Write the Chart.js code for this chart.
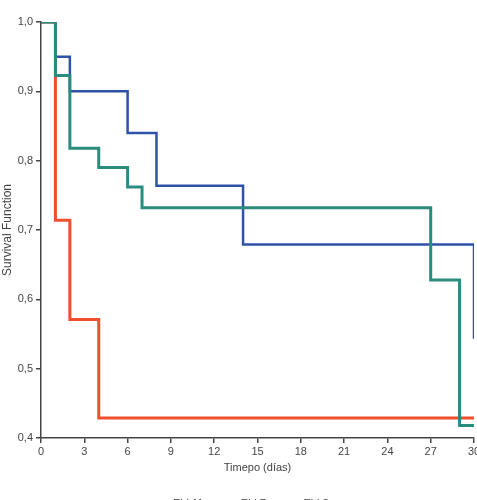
<!DOCTYPE html>
<html>
<head>
<meta charset="utf-8">
<script src="https://cdn.jsdelivr.net/npm/chart.js@4"></script>
<style>
  html, body { margin: 0; padding: 0; background: #fff; overflow: hidden; }
  #wrap { width: 477px; height: 519px; }
</style>
</head>
<body>
<div id="wrap"><canvas id="chart" width="477" height="519"></canvas></div>
<script>
// Datos (tiempo en días, función de supervivencia)
const seriesNames = ['Ehl 2', 'Ehl 7', 'Ehl 11'];

const blueDays = [0, 1, 2, 6, 8, 14, 30];
const blueSurv = [1.0, 0.95, 0.9, 0.84, 0.764, 0.679, 0.543];

const redDays = [0, 1, 2, 4, 30];
const redSurv = [1.0, 0.714, 0.571, 0.429, 0.429];

const tealDays = [0, 1, 2, 4, 6, 7, 27, 29, 30];
const tealSurv = [1.0, 0.923, 0.818, 0.79, 0.762, 0.732, 0.628, 0.418, 0.418];

const xTicks = [0, 3, 6, 9, 12, 15, 18, 21, 24, 27, 30];
const yTicks = [0.4, 0.5, 0.6, 0.7, 0.8, 0.9, 1.0];

const toPoints = (xs, ys) => xs.map((x, i) => ({ x: x, y: ys[i] }));

const textColor = '#444';
const axisColor = '#444';
const font = { family: 'Liberation Sans, Arial, sans-serif', size: 11 };

function makeSet(label, xs, ys, color, width, order) {
    return {
        label: label,
        data: toPoints(xs, ys),
        borderColor: color,
        backgroundColor: color,
        borderWidth: width,
        stepped: true,
        pointRadius: 0,
        fill: false,
        order: order
    };
}

const ctx = document.getElementById('chart').getContext('2d');
new Chart(ctx, {
    type: 'line',
    data: {
        datasets: [
            makeSet(seriesNames[0], blueDays, blueSurv, '#2d52a8', 2.5, 3),
            makeSet(seriesNames[1], redDays, redSurv, '#ef4f2c', 3, 2),
            makeSet(seriesNames[2], tealDays, tealSurv, '#2a8b7f', 3, 1)
        ]
    },
    options: {
        responsive: false,
        animation: false,
        layout: { padding: { top: 22, right: 3, left: 0, bottom: 0 } },
        scales: {
            x: {
                type: 'linear',
                min: 0,
                max: 30,
                afterBuildTicks: (scale) => { scale.ticks = xTicks.map(v => ({ value: v })); },
                afterFit: (scale) => {
                    scale.height = 50;
                    scale.paddingLeft = 0;
                    scale.paddingRight = 0;
                },
                ticks: { color: textColor, font: font, padding: 2, maxRotation: 0, autoSkip: false },
                grid: { drawOnChartArea: false, drawTicks: true, tickLength: 5, color: axisColor, lineWidth: 1.5 },
                border: { display: true, color: axisColor, width: 1.5 },
                title: { display: true, text: 'Timepo (días)', color: textColor, font: font, padding: { top: 0, bottom: 13 } }
            },
            y: {
                type: 'linear',
                min: 0.4,
                max: 1.0,
                afterBuildTicks: (scale) => { scale.ticks = yTicks.map(v => ({ value: v })); },
                afterFit: (scale) => {
                    scale.width = 41;
                    scale.paddingTop = 0;
                    scale.paddingBottom = 0;
                },
                ticks: {
                    color: textColor,
                    font: font,
                    padding: 3,
                    callback: (v) => v.toFixed(1).replace('.', ',')
                },
                grid: { drawOnChartArea: false, drawTicks: true, tickLength: 5, color: axisColor, lineWidth: 1.5 },
                border: { display: true, color: axisColor, width: 1.5 },
                title: { display: true, text: 'Survival Function', color: textColor, font: { family: font.family, size: 12 }, padding: { top: 0, bottom: 0 } }
            }
        },
        plugins: {
            legend: {
                display: true,
                position: 'bottom',
                labels: {
                    color: textColor,
                    font: font,
                    boxWidth: 22,
                    boxHeight: 2,
                    padding: 10
                }
            },
            tooltip: { enabled: false }
        }
    }
});
</script>
</body>
</html>
